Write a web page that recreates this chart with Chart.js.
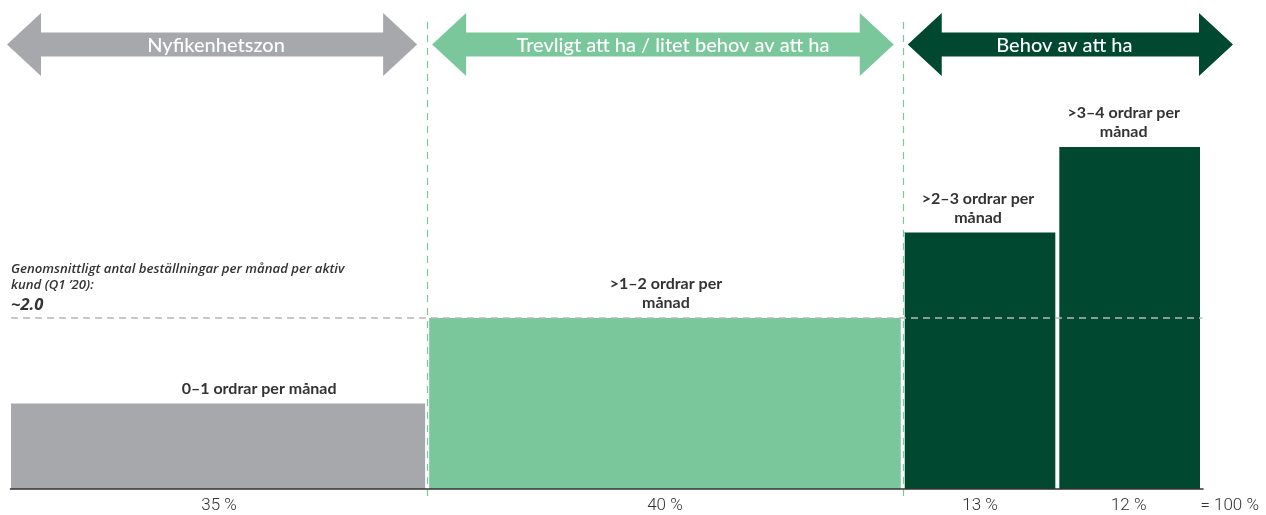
<!DOCTYPE html>
<html>
<head>
<meta charset="utf-8">
<script src="https://cdn.jsdelivr.net/npm/chart.js@4/dist/chart.umd.min.js"></script>
<style>
  body { margin: 0; background: #fff; }
  #wrap { width: 1266px; height: 515px; position: relative; }
</style>
</head>
<body>
<div id="wrap"><canvas id="canvas"></canvas></div>
<script>
// data
var barLabels = [['0–1 ordrar per månad'], ['>1–2 ordrar per', 'månad'], ['>2–3 ordrar per', 'månad'], ['>3–4 ordrar per', 'månad']];
var shares = [35, 40, 13, 12];          // % of active customers (bar widths)
var ordersPerMonth = [1, 2, 3, 4];      // bar heights
var shareLabels = ['35 %', '40 %', '13 %', '12 %'];
var totalLabel = '= 100 %';
var avgOrders = 2.0;
var avgText = ['Genomsnittligt antal beställningar per månad per aktiv', 'kund (Q1 \u201920):'];
var avgValue = '~2.0';
var zones = ['Nyfikenhetszon', 'Trevligt att ha / litet behov av att ha', 'Behov av att ha'];
var zoneBars = [[0], [1], [2, 3]];

var barColors = ['#A7A8AB', '#79C79A', '#004830', '#004830'];
var zoneColors = ['#A7A8AB', '#79C79A', '#004830'];

// cumulative starts / ends
var starts = [], ends = [], acc = 0;
for (var i = 0; i < shares.length; i++) {
    starts[i] = acc;
    acc += shares[i];
    ends[i] = acc;
}
var centers = starts.map(function (s, i) { return s + shares[i] / 2; });
var totalPos = 102.5;

var datasets = [];
// avg line on top
datasets.push({
    label: 'avg',
    data: [{ x: 0, y: avgOrders }, { x: acc + 0.2, y: avgOrders }],
    borderColor: '#B8B8B8',
    borderWidth: 1.5,
    borderDash: [7, 5],
    pointRadius: 0,
    fill: false
});
// baseline
datasets.push({
    label: 'base',
    data: [{ x: -0.1, y: 0 }, { x: acc + 0.3, y: 0 }],
    borderColor: '#333333',
    borderWidth: 1.6,
    pointRadius: 0,
    fill: false,
    clip: false
});
// white gaps between bars
for (i = 1; i < shares.length; i++) {
    datasets.push({
        label: 'gap' + i,
        data: [{ x: starts[i], y: 0 }, { x: starts[i], y: Math.max(ordersPerMonth[i - 1], ordersPerMonth[i]) }],
        borderColor: '#ffffff',
        borderWidth: 4,
        pointRadius: 0,
        fill: false
    });
}
// bars
for (i = 0; i < shares.length; i++) {
    datasets.push({
        label: barLabels[i].join(' '),
        data: [{ x: starts[i], y: ordersPerMonth[i] }, { x: ends[i], y: ordersPerMonth[i] }],
        borderWidth: 0,
        borderColor: barColors[i],
        backgroundColor: barColors[i],
        pointRadius: 0,
        fill: 'origin'
    });
}

var decor = {
    id: 'decor',
    afterDatasetsDraw: function (chart, args, opts) {
        var ctx = chart.ctx, x = chart.scales.x, y = chart.scales.y;
        ctx.save();

        // green dashed zone dividers
        ctx.strokeStyle = '#79C79A';
        ctx.lineWidth = 1.2;
        ctx.setLineDash([7, 6]);
        [starts[1], starts[2]].forEach(function (v) {
            var px = Math.round(x.getPixelForValue(v)) + 0.5;
            ctx.beginPath();
            ctx.moveTo(px, 22);
            ctx.lineTo(px, y.getPixelForValue(0) + 7);
            ctx.stroke();
        });
        ctx.setLineDash([]);

        // zone arrows
        zones.forEach(function (name, z) {
            var b = zoneBars[z];
            var x0 = x.getPixelForValue(starts[b[0]]) + opts.arrowInset[z][0];
            var x1 = x.getPixelForValue(ends[b[b.length - 1]]) + opts.arrowInset[z][1];
            var cy = 44.5, bh = 12, hh = 31.5, hl = 34;
            ctx.fillStyle = zoneColors[z];
            ctx.beginPath();
            ctx.moveTo(x0, cy);
            ctx.lineTo(x0 + hl, cy - hh);
            ctx.lineTo(x0 + hl, cy - bh);
            ctx.lineTo(x1 - hl, cy - bh);
            ctx.lineTo(x1 - hl, cy - hh);
            ctx.lineTo(x1, cy);
            ctx.lineTo(x1 - hl, cy + hh);
            ctx.lineTo(x1 - hl, cy + bh);
            ctx.lineTo(x0 + hl, cy + bh);
            ctx.lineTo(x0 + hl, cy + hh);
            ctx.closePath();
            ctx.fill();
            ctx.fillStyle = '#ffffff';
            ctx.font = '500 20px Lato';
            ctx.textAlign = 'center';
            ctx.textBaseline = 'middle';
            ctx.fillText(name, (x0 + x1) / 2 + opts.zoneTextOffset[z], cy + 1);
        });

        // bar labels
        ctx.fillStyle = '#333333';
        ctx.font = 'bold 16px Lato';
        ctx.textAlign = 'center';
        ctx.textBaseline = 'middle';
        barLabels.forEach(function (lines, k) {
            var cx = x.getPixelForValue(centers[k]) + opts.labelOffset[k];
            var top = y.getPixelForValue(ordersPerMonth[k]);
            for (var n = 0; n < lines.length; n++) {
                var ly = top - 15 - (lines.length - 1 - n) * 19;
                ctx.fillText(lines[n], cx, ly);
            }
        });

        // avg annotation
        ctx.textAlign = 'left';
        ctx.font = 'italic 600 13.2px "Open Sans"';
        var ay = y.getPixelForValue(avgOrders);
        ctx.fillText(avgText[0], 11, ay - 49);
        ctx.fillText(avgText[1], 11, ay - 33);
        ctx.font = 'italic bold 16.5px "Open Sans"';
        ctx.fillText(avgValue, 11, ay - 13);

        ctx.restore();
    }
};

var ctx = document.getElementById('canvas');
var myChart = new Chart(ctx, {
    type: 'scatter',
    data: { datasets: datasets },
    options: {
        responsive: true,
        maintainAspectRatio: false,
        animation: false,
        showLine: true,
        layout: { padding: { left: 11, right: 0, top: 0, bottom: 0 } },
        plugins: {
            legend: { display: false },
            tooltip: { enabled: false },
            decor: {
                arrowInset: [[-4, -10], [5, -9], [5, 33]],
                zoneTextOffset: [4, 10, -6],
                labelOffset: [40, 1, -2, -5]
            }
        },
        scales: {
            x: {
                type: 'linear',
                min: 0,
                max: 105.0,
                grid: { display: false, drawTicks: false },
                border: { display: false },
                afterBuildTicks: function (scale) {
                    scale.ticks = centers.concat([totalPos]).map(function (v) { return { value: v }; });
                },
                afterFit: function (scale) {
                    scale.height = 26;
                },
                ticks: {
                    autoSkip: false,
                    maxRotation: 0,
                    padding: 7,
                    color: '#333333',
                    font: { family: 'Roboto', size: 17, weight: '300' },
                    callback: function (value, index) {
                        return index < shareLabels.length ? shareLabels[index] : totalLabel;
                    }
                }
            },
            y: {
                display: false,
                min: 0,
                max: 5.72
            }
        }
    },
    plugins: [decor]
});
</script>
</body>
</html>
